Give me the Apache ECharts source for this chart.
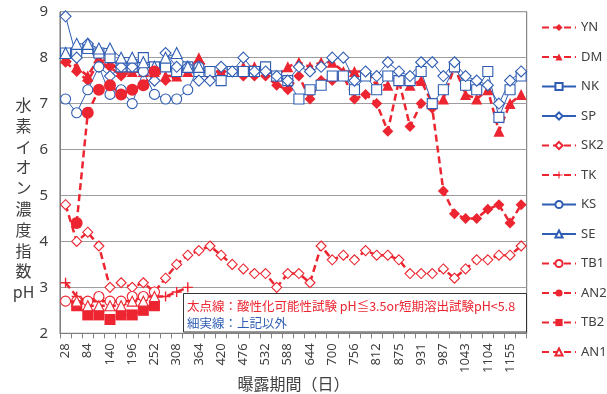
<!DOCTYPE html>
<html>
<head>
<meta charset="utf-8">
<script src="https://cdn.jsdelivr.net/npm/echarts@6/dist/echarts.min.js"></script>
<style>
html,body{margin:0;padding:0;background:#fff;}
#chart{width:607px;height:394px;}
</style>
</head>
<body>
<div id="chart"></div>
<script>
// exposure period (days); every second one is labelled on the axis
const days = [28,56,84,112,140,168,196,224,252,280,308,336,364,392,420,448,476,504,532,560,588,616,644,672,700,728,756,784,812,843,875,903,931,959,987,1015,1043,1073,1104,1129,1155,1183];

// pH per site
const YN  = [7.9,7.7,7.5,7.9,7.8,7.6,7.7,7.7,7.5,7.5,7.6,7.8,7.8,7.6,7.7,7.7,7.6,7.6,7.6,7.4,7.3,7.6,7.1,7.5,7.5,7.6,7.1,7.2,7.0,6.4,7.5,6.5,7.0,6.9,5.1,4.6,4.5,4.5,4.7,4.8,4.4,4.8];
const DM  = [8.0,7.8,7.6,8.0,7.9,7.7,7.7,7.7,7.7,7.6,7.6,7.7,8.0,7.7,7.7,7.7,7.8,7.8,7.8,7.6,7.8,7.9,7.8,7.9,7.9,7.7,7.7,7.7,7.4,7.4,7.5,7.4,7.5,7.0,7.1,7.8,7.2,7.1,7.3,6.4,7.0,7.2];
const NK  = [8.1,8.1,8.2,8.1,8.0,7.8,7.8,8.0,7.8,7.8,7.7,7.8,7.7,7.7,7.5,7.7,7.7,7.7,7.8,7.6,7.5,7.1,7.3,7.4,7.6,7.6,7.3,7.6,7.3,7.6,7.5,7.5,7.7,7.0,7.3,7.8,7.4,7.3,7.7,6.7,7.3,7.6];
const SP  = [8.9,8.0,8.3,7.8,7.6,7.8,7.8,7.7,7.5,8.1,7.8,7.8,7.5,7.5,7.8,7.7,8.0,7.7,7.7,7.6,7.5,7.8,7.7,7.8,8.0,8.0,7.5,7.7,7.6,7.9,7.7,7.6,7.9,7.9,7.6,7.9,7.6,7.5,7.4,7.0,7.5,7.7];
const SK2 = [4.8,4.0,4.2,3.9,3.0,3.1,3.0,3.1,2.9,3.2,3.5,3.7,3.8,3.9,3.7,3.5,3.4,3.3,3.3,3.0,3.3,3.3,3.1,3.9,3.6,3.7,3.6,3.8,3.7,3.7,3.6,3.3,3.3,3.3,3.4,3.2,3.4,3.6,3.6,3.7,3.7,3.9];
const TK  = [3.1,2.8,2.7,2.7,2.7,2.7,2.7,2.8,2.8,2.8,2.9,3.0];
const KS  = [7.1,6.8,7.3,7.8,7.2,7.3,7.0,7.7,7.2,7.1,7.1,7.3,7.8];
const SE  = [8.1,8.3,8.3,8.2,8.2,8.0,8.0,7.9,7.8,8.0,8.1,7.8,7.8];
const TB1 = [2.7,2.7,2.7,2.8,2.7,2.7,2.8,2.8,2.9];
const AN2 = [null,4.4,6.8,7.3,7.4,7.2,7.3,7.4,7.7];
const TB2 = [null,2.6,2.4,2.4,2.3,2.4,2.4,2.5,2.6];
const AN1 = [null,2.7,2.6,2.6,2.6,2.6,2.7,2.7,2.8];

const yTicks = [2,3,4,5,6,7,8,9];

const RED = '#EC2530';
const BLUE = '#2F5DB3';
const JP = '"Noto Sans CJK JP", "Noto Sans", sans-serif';
const PLUS = 'path://M4.3,0H5.7V4.3H10V5.7H5.7V10H4.3V5.7H0V4.3H4.3Z';

// thick dashed red = acidification risk; thin solid blue = others
function site(name, data, kind, symbol, size, filled) {
  const col = kind === 'red' ? RED : BLUE;
  return {
    name: name,
    type: 'line',
    data: data,
    symbol: symbol,
    symbolSize: size,
    showSymbol: true,
    showAllSymbol: true,
    connectNulls: false,
    animation: false,
    lineStyle: kind === 'red'
      ? { color: col, width: 2.5, type: [7, 4] }
      : { color: col, width: 1, type: 'solid' },
    itemStyle: filled
      ? { color: col, borderColor: col, borderWidth: 0 }
      : { color: '#ffffff', borderColor: col, borderWidth: 1.1 },
    emphasis: { disabled: true }
  };
}

const series = [
  site('YN',  YN,  'red',  'diamond',  11, true),
  site('DM',  DM,  'red',  'triangle', 11, true),
  site('NK',  NK,  'blue', 'rect',     10, false),
  site('SP',  SP,  'blue', 'diamond',  11, false),
  site('SK2', SK2, 'red',  'diamond',  10, false),
  site('TK',  TK,  'red',  PLUS,       10, true),
  site('KS',  KS,  'blue', 'circle',   10, false),
  site('SE',  SE,  'blue', 'triangle', 11, false),
  site('TB1', TB1, 'red',  'circle',   10, false),
  site('AN2', AN2, 'red',  'circle',   12, true),
  site('TB2', TB2, 'red',  'rect',     11, true),
  site('AN1', AN1, 'red',  'triangle', 10, false)
];

const chart = echarts.init(document.getElementById('chart'), null, { renderer: 'canvas' });
chart.setOption({
  animation: false,
  backgroundColor: '#ffffff',
  grid: { left: 60, right: 80.3, top: 11.7, bottom: 60.7, show: true, borderColor: '#6e6e6e', borderWidth: 1 },
  legend: {
    type: 'plain',
    orient: 'vertical',
    left: 536,
    top: 16,
    itemWidth: 34,
    itemHeight: 9,
    itemGap: 16.5,
    textStyle: { fontSize: 13, color: '#404040', fontFamily: '"Noto Sans", sans-serif' },
    data: series.map(s => s.name)
  },
  xAxis: {
    type: 'category',
    data: days,
    boundaryGap: true,
    axisLine: { lineStyle: { color: '#7f7f7f', width: 1 } },
    axisTick: { show: true, interval: 0, length: 5, lineStyle: { color: '#7f7f7f' } },
    axisLabel: { interval: 1, rotate: 90, margin: 10, fontSize: 13, color: '#404040', fontFamily: '"Noto Sans", sans-serif' },
    splitLine: { show: false }
  },
  yAxis: {
    type: 'value',
    min: yTicks[0],
    max: yTicks[yTicks.length - 1],
    interval: 1,
    axisLine: { show: true, lineStyle: { color: '#7f7f7f', width: 1 } },
    axisTick: { show: false },
    axisLabel: { margin: 12, fontSize: 15, color: '#404040', fontFamily: '"Noto Sans", sans-serif' },
    splitLine: { show: true, lineStyle: { color: '#9e9e9e', width: 1 } }
  },
  series: series,
  graphic: [
    {
      type: 'text', x: 23.5, y: 94.5, z: 100,
      style: {
        text: '水\n素\nイ\nオ\nン\n濃\n度\n指\n数\npH',
        font: '16px ' + JP, fill: '#404040', align: 'center', verticalAlign: 'top', lineHeight: 20.8
      }
    },
    {
      type: 'text', x: 293.5, y: 383.5, z: 100,
      style: { text: '曝露期間（日）', font: '16px ' + JP, fill: '#404040', align: 'center', verticalAlign: 'middle' }
    },
    {
      type: 'rect', z: 100,
      shape: { x: 183.5, y: 293.5, width: 343, height: 38.5 },
      style: { fill: '#ffffff', stroke: '#333333', lineWidth: 1 }
    },
    {
      type: 'text', x: 187, y: 306, z: 101,
      style: { text: '太点線：酸性化可能性試験 pH≦3.5or短期溶出試験pH<5.8', font: '12.5px ' + JP, fill: RED, align: 'left', verticalAlign: 'middle' }
    },
    {
      type: 'text', x: 187, y: 323.5, z: 101,
      style: { text: '細実線：上記以外', font: '12.5px ' + JP, fill: BLUE, align: 'left', verticalAlign: 'middle' }
    }
  ]
});
</script>
</body>
</html>
